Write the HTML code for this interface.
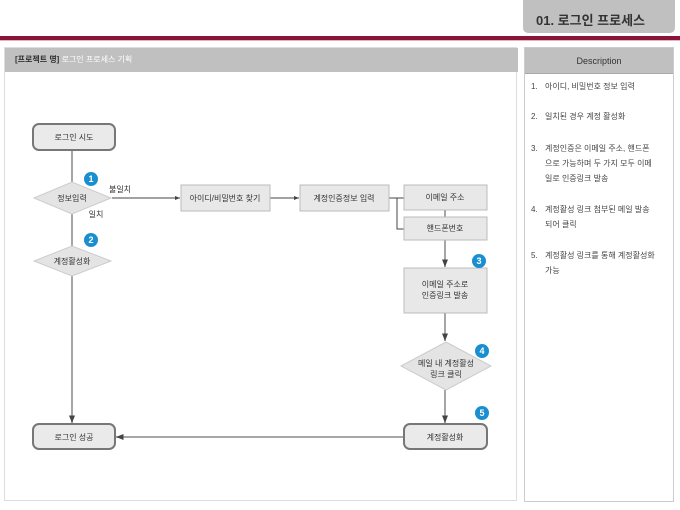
<!DOCTYPE html>
<html><head><meta charset="utf-8"><style>
body{margin:0;width:680px;height:510px;background:#fff;position:relative;overflow:hidden;font-family:"Liberation Sans","Noto Sans CJK KR","NanumGothic",sans-serif;}
.abs{position:absolute}
.desc div{position:absolute;left:531px;font-size:8px;color:#444;line-height:15px}
.desc span{display:inline-block;width:14px}
</style></head><body>
<div class="abs" style="left:523px;top:-6px;width:152px;height:39px;background:#c0c0c0;border-radius:5px;"></div>
<div class="abs" style="left:536px;top:10px;font-size:13px;font-weight:bold;color:#333;">01. 로그인 프로세스</div>
<div class="abs" style="left:0;top:36px;width:680px;height:4px;background:#8a1538;"></div>
<div class="abs" style="left:0;top:40px;width:680px;height:1px;background:#e8b0c0;"></div>

<div class="abs" style="left:4px;top:47px;width:513px;height:454px;border:1px solid #ddd;box-sizing:border-box;"></div>
<div class="abs" style="left:5px;top:48px;width:513px;height:24px;background:#c0c0c0;"></div>
<div class="abs" style="left:15px;top:54px;font-size:8px;color:#333;font-weight:bold;">[프로젝트 명] <span style="color:#fff;font-weight:normal">로그인 프로세스 기획</span></div>

<div class="abs" style="left:524px;top:47px;width:150px;height:455px;border:1px solid #ccc;box-sizing:border-box;"></div>
<div class="abs" style="left:525px;top:48px;width:148px;height:25px;background:#c0c0c0;border-bottom:1px solid #aaa;"></div>
<div class="abs" style="left:525px;top:56px;width:148px;text-align:center;font-size:9px;color:#333;">Description</div>
<div class="desc">
<div style="top:79px"><span>1.</span>아이디, 비밀번호 정보 입력</div>
<div style="top:109px"><span>2.</span>일치된 경우 계정 활성화</div>
<div style="top:141px"><span>3.</span>계정인증은 이메일 주소, 핸드폰<br><span></span>으로 가능하며 두 가지 모두 이메<br><span></span>일로 인증링크 발송</div>
<div style="top:202px"><span>4.</span>계정활성 링크 첨부된 메일 발송<br><span></span>되어 클릭</div>
<div style="top:248px"><span>5.</span>계정활성 링크를 통해 계정활성화<br><span></span>가능</div>
</div>

<svg class="abs" style="left:0;top:0" width="680" height="510" font-family="Liberation Sans, Noto Sans CJK KR, sans-serif" font-size="8" fill="#333">
<defs><marker id="a" markerWidth="6" markerHeight="6" refX="5" refY="3" orient="auto"><path d="M0,1 L5,3 L0,5z" fill="#444"/></marker></defs>
<g stroke="#888" stroke-width="1.5" fill="none">
<line x1="72" y1="150" x2="72" y2="182"/>
<line x1="72" y1="214" x2="72" y2="246"/>
<line x1="72" y1="276" x2="72" y2="423" marker-end="url(#a)"/>
<line x1="445" y1="313" x2="445" y2="341" marker-end="url(#a)"/>
<line x1="445" y1="390" x2="445" y2="423" marker-end="url(#a)"/>
<line x1="404" y1="437" x2="116" y2="437" marker-end="url(#a)"/>
<line x1="445" y1="210" x2="445" y2="217"/>
<line x1="445" y1="240" x2="445" y2="267" marker-end="url(#a)"/>
</g>
<g stroke="#444" stroke-width="1" fill="none">
<line x1="112" y1="198" x2="180" y2="198" marker-end="url(#a)"/>
<line x1="270" y1="198" x2="299" y2="198" marker-end="url(#a)"/>
<polyline points="389,198 404,198"/>
<polyline points="397,198 397,229 404,229"/>
</g>
<g fill="#eaeaea" stroke="#777" stroke-width="2">
<rect x="33" y="124" width="82" height="26" rx="6"/>
<rect x="33" y="424" width="82" height="25" rx="6"/>
<rect x="404" y="424" width="83" height="25" rx="6"/>
</g>
<g fill="#e8e8e8" stroke="#bbb" stroke-width="1">
<rect x="181" y="185" width="89" height="26"/>
<rect x="300" y="185" width="89" height="26"/>
<rect x="404" y="185" width="83" height="25"/>
<rect x="404" y="217" width="83" height="23"/>
<rect x="404" y="268" width="83" height="45"/>
<polygon points="34,198 72,182 111,198 72,214" fill="#e4e4e4" stroke="#ccc"/>
<polygon points="34,261 72,246 111,261 72,276" fill="#e4e4e4" stroke="#ccc"/>
<polygon points="401,366 446,342 491,366 446,390" fill="#e4e4e4" stroke="#ccc"/>
</g>
<g text-anchor="middle">
<text x="74" y="140">로그인 시도</text>
<text x="74" y="440">로그인 성공</text>
<text x="445" y="440">계정활성화</text>
<text x="225" y="201">아이디/비밀번호 찾기</text>
<text x="344" y="201">계정인증정보 입력</text>
<text x="445" y="200">이메일 주소</text>
<text x="445" y="231">핸드폰번호</text>
<text x="445" y="287">이메일 주소로</text>
<text x="445" y="298">인증링크 발송</text>
<text x="72" y="201">정보입력</text>
<text x="72" y="264">계정활성화</text>
<text x="446" y="366">메일 내 계정활성</text>
<text x="446" y="377">링크 클릭</text>
<text x="120" y="192">불일치</text>
<text x="96" y="217">일치</text>
</g>
<g fill="#1a8fd0">
<circle cx="91" cy="179" r="7"/><circle cx="91" cy="240" r="7"/><circle cx="479" cy="261" r="7"/><circle cx="482" cy="351" r="7"/><circle cx="482" cy="413" r="7"/>
</g>
<g fill="#fff" font-size="9" font-weight="bold" text-anchor="middle">
<text x="91" y="182">1</text><text x="91" y="243">2</text><text x="479" y="264">3</text><text x="482" y="354">4</text><text x="482" y="416">5</text>
</g>
</svg>
</body></html>
